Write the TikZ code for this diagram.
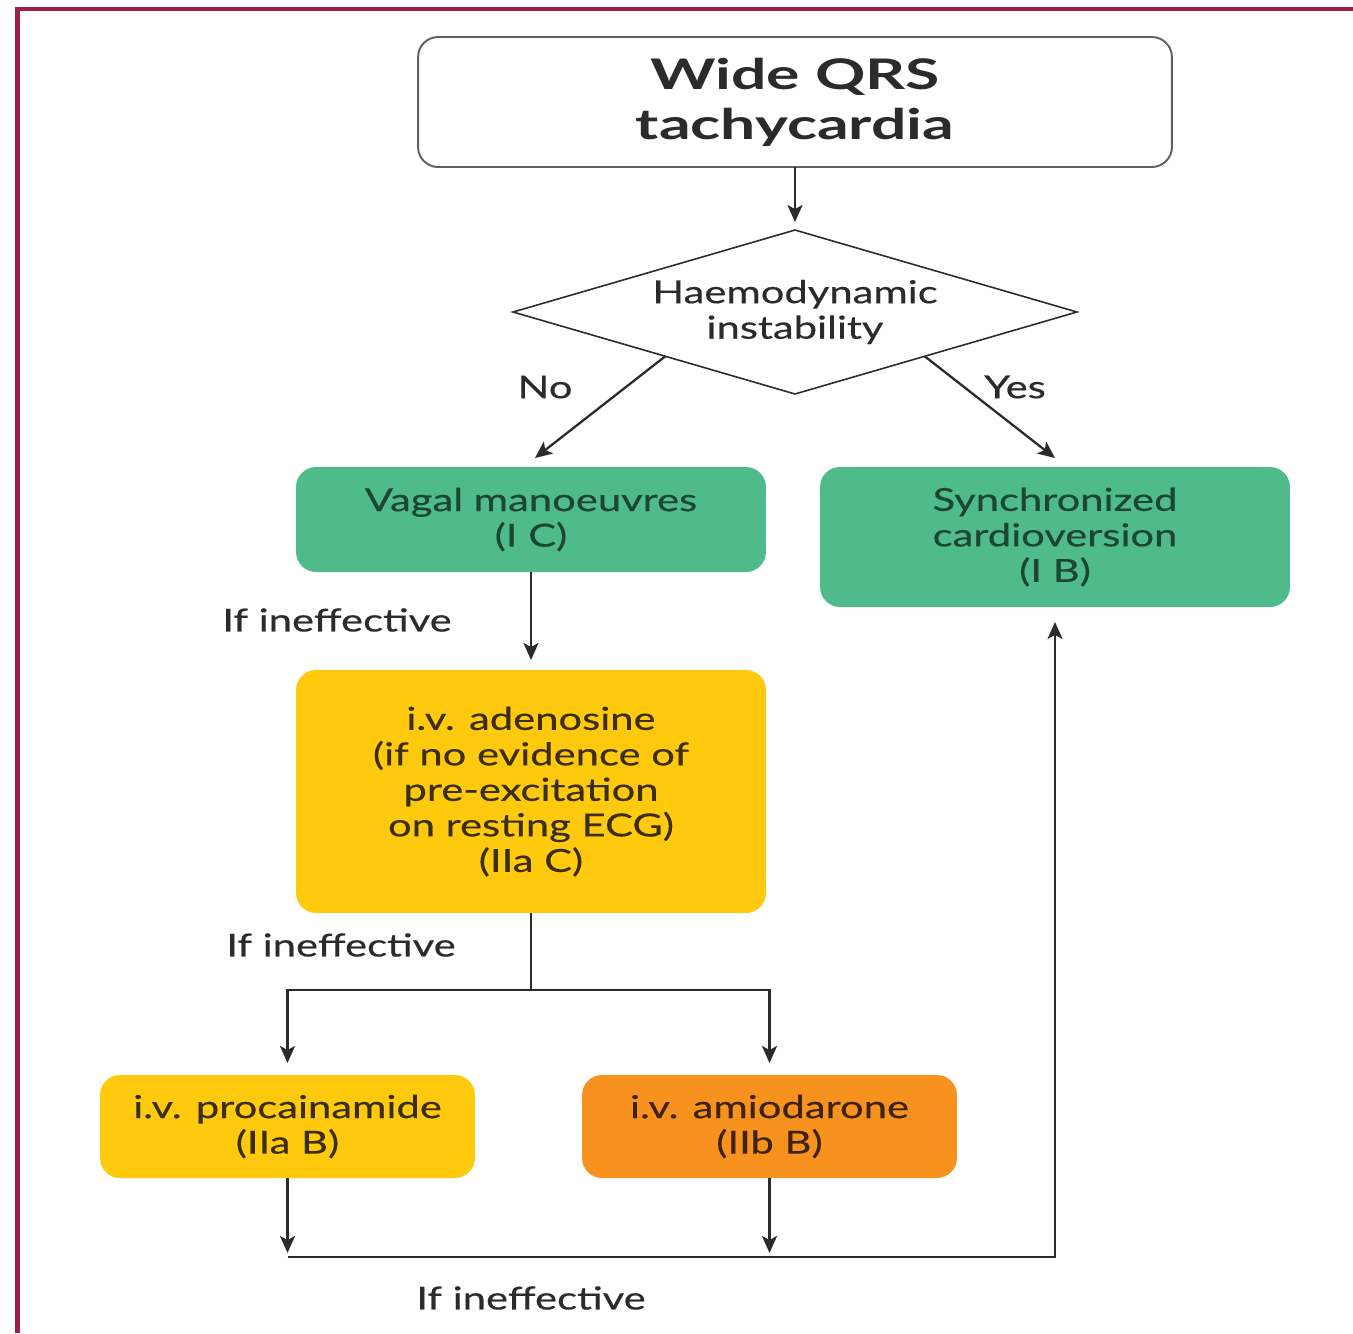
\documentclass[tikz,border=0pt]{standalone}
\usepackage{fontspec}
\setmainfont{Lato}[FakeStretch=1.32, FakeBold=0.4]
\newfontfamily\titlefont{Lato}[FakeStretch=1.48]
\usetikzlibrary{shapes.geometric,arrows.meta,calc}
\definecolor{framecol}{HTML}{9E1F48}
\definecolor{gfill}{HTML}{4FBA8A}
\definecolor{yfill}{HTML}{FFC90E}
\definecolor{ofill}{HTML}{F7921E}
\definecolor{ink}{HTML}{2B2B2B}
\definecolor{gink}{HTML}{1C4630}
\definecolor{yink}{HTML}{3A2E0C}
\definecolor{oink}{HTML}{3F2208}
\begin{document}
\begin{tikzpicture}[x=0.02cm,y=-0.02cm,
  txt/.style={font=\fontsize{18}{20.2}\selectfont, align=center},
  box/.style={txt, rectangle, rounded corners=0.4cm, inner sep=0pt, outer sep=0pt},
  gbox/.style={box, fill=gfill, text=gink},
  ybox/.style={box, fill=yfill, text=yink},
  obox/.style={box, fill=ofill, text=oink},
  arr/.style={draw=ink, line width=1.3pt, -{Stealth[length=0.34cm,width=0.3cm,inset=0.08cm]}},
  ln/.style={draw=ink, line width=1.3pt},
  lbl/.style={txt, text=ink, inner sep=0pt}]
\useasboundingbox (0,0) rectangle (1353,1333);
\fill[white] (0,0) rectangle (1353,1333);
% frame
\fill[framecol] (15,7) rectangle (1353,11);
\fill[framecol] (15,7) rectangle (20,1333);
% nodes
\node[box, draw=ink!75, line width=1.1pt, fill=white, text=ink,
  font=\fontsize{24}{28.4}\selectfont\titlefont\bfseries,
  minimum width=15.08cm, minimum height=2.6cm] (title) at (795,102) {Wide QRS\\tachycardia};
\node[txt, shape=diamond, draw=ink, line width=0.9pt, text=ink, inner sep=0pt, outer sep=0pt,
  aspect=3.44, minimum width=11.28cm, minimum height=3.28cm] (dia) at (795,312) {Haemodynamic\\instability};
\node[gbox, minimum width=9.4cm, minimum height=2.1cm] (vagal) at (531,519.5) {Vagal manoeuvres\\(I C)};
\node[gbox, minimum width=9.4cm, minimum height=2.8cm] (sync) at (1055,537) {Synchronized\\cardioversion\\(I B)};
\node[ybox, minimum width=9.4cm, minimum height=4.86cm] (aden) at (531,791.5) {i.v. adenosine\\(if no evidence of\\pre-excitation\\on resting ECG)\\(IIa C)};
\node[ybox, minimum width=7.5cm, minimum height=2.06cm] (proc) at (287.5,1126.5) {i.v. procainamide\\(IIa B)};
\node[obox, minimum width=7.5cm, minimum height=2.06cm] (amio) at (769.5,1126.5) {i.v. amiodarone\\(IIb B)};
% labels
\node[lbl] (no) at (545,387) {No};
\node[lbl] (yes) at (1015,387) {Yes};
\node[lbl, anchor=west] (ie1) at (222,620) {If ineffective};
\node[lbl, anchor=west] (ie2) at (226,945) {If ineffective};
\node[lbl] (ie3) at (531,1298) {If ineffective};
% connectors
\draw[arr] (title.south) -- ([yshift=0.16cm]dia.north);
\coordinate (noS) at ($(dia.west)!0.54!(dia.south)$);
\coordinate (yesS) at ($(dia.east)!0.54!(dia.south)$);
\draw[arr] (noS) -- ([xshift=0.08cm,yshift=0.18cm]vagal.north);
\draw[arr] (yesS) -- ([yshift=0.18cm]sync.north);
\draw[arr] (vagal.south) -- ([yshift=0.2cm]aden.north);
\coordinate (split) at ($(aden.south)+(0,77)$);
\draw[ln] (aden.south) -- (split);
\draw[arr] (split) -| ([yshift=0.24cm]proc.north);
\draw[arr] (split) -| ([yshift=0.24cm]amio.north);
\coordinate (bl) at ($(proc.south)+(0,79)$);
\draw[arr] (proc.south) -- ([yshift=0.08cm]bl);
\draw[arr] (amio.south) -- ([yshift=0.08cm]amio.south |- bl);
\draw[arr] (bl) -- (bl -| sync.south) -- ([yshift=-0.3cm]sync.south);
\end{tikzpicture}
\end{document}
